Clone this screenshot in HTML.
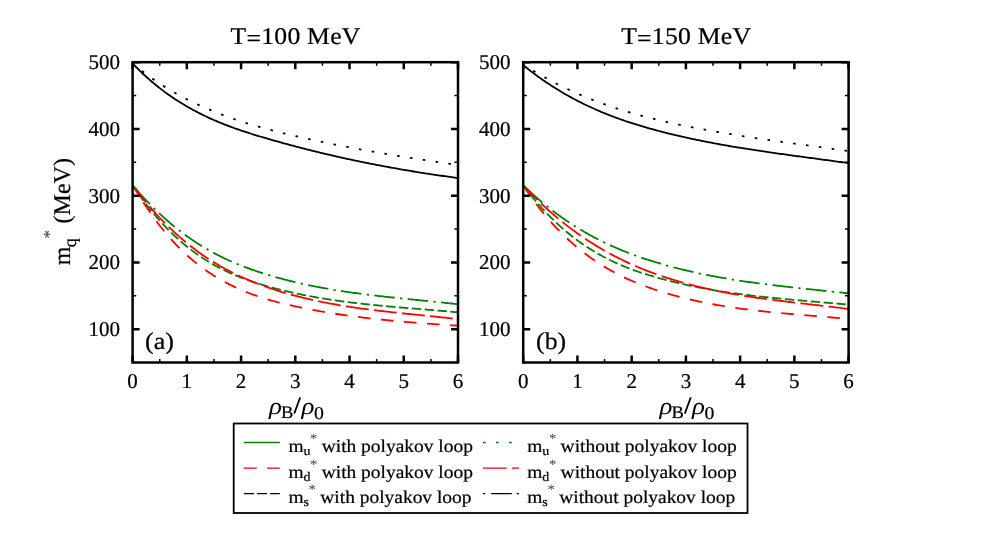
<!DOCTYPE html>
<html><head><meta charset="utf-8"><title>chart</title>
<style>
html,body{margin:0;padding:0;background:#fff;}
body{width:981px;height:545px;overflow:hidden;}
svg{display:block;will-change:transform;font-family:"Liberation Serif",serif;}
text{fill:#000;stroke:#000;stroke-width:0.22px;text-rendering:geometricPrecision;}
</style></head><body>
<svg width="981" height="545" viewBox="0 0 981 545">
<defs>
<clipPath id="clip0"><rect x="132.6" y="62.2" width="325.4" height="300.30"/></clipPath>
<clipPath id="clip1"><rect x="523.2" y="62.2" width="325.4" height="300.30"/></clipPath>
</defs>
<rect width="981" height="545" fill="#fff"/>
<g clip-path="url(#clip0)">
<path d="M132.60,63.46 L134.24,65.16 L135.87,66.83 L137.51,68.48 L139.14,70.09 L140.78,71.68 L142.41,73.23 L144.05,74.76 L145.68,76.27 L147.32,77.74 L148.95,79.19 L150.59,80.62 L152.22,82.02 L153.86,83.39 L155.49,84.74 L157.13,86.07 L158.76,87.37 L160.40,88.65 L162.03,89.91 L163.67,91.14 L165.30,92.35 L166.94,93.54 L168.57,94.71 L170.21,95.85 L171.84,96.98 L173.48,98.09 L175.11,99.17 L176.75,100.24 L178.38,101.29 L180.02,102.32 L181.66,103.33 L183.29,104.32 L184.93,105.30 L186.56,106.26 L188.20,107.20 L189.83,108.12 L191.47,109.03 L193.10,109.93 L194.74,110.81 L196.37,111.67 L198.01,112.52 L199.64,113.35 L201.28,114.17 L202.91,114.98 L204.55,115.77 L206.18,116.55 L207.82,117.32 L209.45,118.07 L211.09,118.81 L212.72,119.53 L214.36,120.25 L215.99,120.95 L217.63,121.65 L219.26,122.33 L220.90,123.00 L222.53,123.66 L224.17,124.30 L225.81,124.94 L227.44,125.57 L229.08,126.19 L230.71,126.80 L232.35,127.40 L233.98,127.99 L235.62,128.58 L237.25,129.15 L238.89,129.72 L240.52,130.28 L242.16,130.83 L243.79,131.38 L245.43,131.92 L247.06,132.45 L248.70,132.98 L250.33,133.50 L251.97,134.01 L253.60,134.52 L255.24,135.03 L256.87,135.53 L258.51,136.02 L260.14,136.51 L261.78,137.00 L263.41,137.48 L265.05,137.96 L266.68,138.44 L268.32,138.91 L269.95,139.38 L271.59,139.85 L273.23,140.32 L274.86,140.78 L276.50,141.24 L278.13,141.70 L279.77,142.16 L281.40,142.61 L283.04,143.06 L284.67,143.51 L286.31,143.96 L287.94,144.40 L289.58,144.84 L291.21,145.28 L292.85,145.72 L294.48,146.15 L296.12,146.58 L297.75,147.01 L299.39,147.44 L301.02,147.86 L302.66,148.28 L304.29,148.70 L305.93,149.12 L307.56,149.53 L309.20,149.94 L310.83,150.35 L312.47,150.76 L314.10,151.17 L315.74,151.57 L317.37,151.97 L319.01,152.36 L320.65,152.76 L322.28,153.15 L323.92,153.54 L325.55,153.93 L327.19,154.31 L328.82,154.70 L330.46,155.08 L332.09,155.46 L333.73,155.83 L335.36,156.21 L337.00,156.58 L338.63,156.95 L340.27,157.31 L341.90,157.68 L343.54,158.04 L345.17,158.40 L346.81,158.76 L348.44,159.11 L350.08,159.47 L351.71,159.82 L353.35,160.16 L354.98,160.51 L356.62,160.85 L358.25,161.20 L359.89,161.53 L361.52,161.87 L363.16,162.21 L364.79,162.54 L366.43,162.87 L368.07,163.20 L369.70,163.52 L371.34,163.85 L372.97,164.17 L374.61,164.49 L376.24,164.81 L377.88,165.12 L379.51,165.43 L381.15,165.74 L382.78,166.05 L384.42,166.36 L386.05,166.66 L387.69,166.96 L389.32,167.26 L390.96,167.56 L392.59,167.86 L394.23,168.15 L395.86,168.44 L397.50,168.73 L399.13,169.02 L400.77,169.30 L402.40,169.59 L404.04,169.87 L405.67,170.14 L407.31,170.42 L408.94,170.70 L410.58,170.97 L412.22,171.24 L413.85,171.51 L415.49,171.77 L417.12,172.04 L418.76,172.30 L420.39,172.56 L422.03,172.82 L423.66,173.07 L425.30,173.33 L426.93,173.58 L428.57,173.83 L430.20,174.08 L431.84,174.32 L433.47,174.57 L435.11,174.81 L436.74,175.05 L438.38,175.28 L440.01,175.52 L441.65,175.75 L443.28,175.99 L444.92,176.22 L446.55,176.44 L448.19,176.67 L449.82,176.90 L451.46,177.12 L453.09,177.34 L454.73,177.56 L456.36,177.77 L458.00,177.99" fill="none" stroke="#000" stroke-width="1.8"/>
<path d="M132.60,185.29 L134.24,187.19 L135.87,189.07 L137.51,190.92 L139.14,192.75 L140.78,194.55 L142.41,196.34 L144.05,198.10 L145.68,199.83 L147.32,201.54 L148.95,203.23 L150.59,204.90 L152.22,206.54 L153.86,208.16 L155.49,209.75 L157.13,211.33 L158.76,212.88 L160.40,214.41 L162.03,215.92 L163.67,217.40 L165.30,218.86 L166.94,220.30 L168.57,221.72 L170.21,223.12 L171.84,224.50 L173.48,225.85 L175.11,227.18 L176.75,228.50 L178.38,229.79 L180.02,231.06 L181.66,232.31 L183.29,233.54 L184.93,234.75 L186.56,235.93 L188.20,237.10 L189.83,238.25 L191.47,239.38 L193.10,240.49 L194.74,241.58 L196.37,242.65 L198.01,243.70 L199.64,244.73 L201.28,245.75 L202.91,246.74 L204.55,247.72 L206.18,248.68 L207.82,249.63 L209.45,250.56 L211.09,251.47 L212.72,252.36 L214.36,253.24 L215.99,254.11 L217.63,254.95 L219.26,255.79 L220.90,256.60 L222.53,257.41 L224.17,258.20 L225.81,258.97 L227.44,259.73 L229.08,260.48 L230.71,261.21 L232.35,261.93 L233.98,262.63 L235.62,263.33 L237.25,264.01 L238.89,264.68 L240.52,265.34 L242.16,265.98 L243.79,266.62 L245.43,267.24 L247.06,267.86 L248.70,268.46 L250.33,269.05 L251.97,269.63 L253.60,270.21 L255.24,270.77 L256.87,271.32 L258.51,271.87 L260.14,272.40 L261.78,272.93 L263.41,273.45 L265.05,273.96 L266.68,274.47 L268.32,274.96 L269.95,275.45 L271.59,275.93 L273.23,276.41 L274.86,276.88 L276.50,277.34 L278.13,277.80 L279.77,278.24 L281.40,278.69 L283.04,279.12 L284.67,279.55 L286.31,279.97 L287.94,280.39 L289.58,280.80 L291.21,281.20 L292.85,281.60 L294.48,281.99 L296.12,282.38 L297.75,282.76 L299.39,283.13 L301.02,283.50 L302.66,283.86 L304.29,284.22 L305.93,284.57 L307.56,284.92 L309.20,285.26 L310.83,285.60 L312.47,285.93 L314.10,286.26 L315.74,286.58 L317.37,286.89 L319.01,287.21 L320.65,287.51 L322.28,287.81 L323.92,288.11 L325.55,288.40 L327.19,288.69 L328.82,288.98 L330.46,289.26 L332.09,289.53 L333.73,289.80 L335.36,290.07 L337.00,290.34 L338.63,290.60 L340.27,290.85 L341.90,291.10 L343.54,291.35 L345.17,291.60 L346.81,291.84 L348.44,292.08 L350.08,292.31 L351.71,292.54 L353.35,292.77 L354.98,293.00 L356.62,293.22 L358.25,293.44 L359.89,293.65 L361.52,293.87 L363.16,294.08 L364.79,294.28 L366.43,294.49 L368.07,294.69 L369.70,294.89 L371.34,295.09 L372.97,295.29 L374.61,295.48 L376.24,295.67 L377.88,295.86 L379.51,296.05 L381.15,296.23 L382.78,296.42 L384.42,296.60 L386.05,296.78 L387.69,296.96 L389.32,297.14 L390.96,297.31 L392.59,297.49 L394.23,297.66 L395.86,297.83 L397.50,298.00 L399.13,298.17 L400.77,298.34 L402.40,298.51 L404.04,298.67 L405.67,298.84 L407.31,299.01 L408.94,299.17 L410.58,299.34 L412.22,299.50 L413.85,299.66 L415.49,299.83 L417.12,299.99 L418.76,300.15 L420.39,300.32 L422.03,300.48 L423.66,300.64 L425.30,300.81 L426.93,300.97 L428.57,301.14 L430.20,301.30 L431.84,301.47 L433.47,301.63 L435.11,301.80 L436.74,301.96 L438.38,302.13 L440.01,302.30 L441.65,302.47 L443.28,302.64 L444.92,302.81 L446.55,302.98 L448.19,303.16 L449.82,303.33 L451.46,303.51 L453.09,303.69 L454.73,303.87 L456.36,304.05 L458.00,304.23" fill="none" stroke="#008000" stroke-width="1.8" stroke-dasharray="20.53 5.35 2.3 5.35" stroke-dashoffset="-5.09"/>
<path d="M132.60,185.28 L134.24,187.71 L135.87,190.10 L137.51,192.45 L139.14,194.76 L140.78,197.03 L142.41,199.26 L144.05,201.45 L145.68,203.61 L147.32,205.72 L148.95,207.80 L150.59,209.84 L152.22,211.85 L153.86,213.82 L155.49,215.76 L157.13,217.66 L158.76,219.52 L160.40,221.35 L162.03,223.15 L163.67,224.91 L165.30,226.64 L166.94,228.33 L168.57,230.00 L170.21,231.63 L171.84,233.23 L173.48,234.80 L175.11,236.34 L176.75,237.85 L178.38,239.33 L180.02,240.78 L181.66,242.20 L183.29,243.59 L184.93,244.95 L186.56,246.28 L188.20,247.59 L189.83,248.87 L191.47,250.13 L193.10,251.35 L194.74,252.56 L196.37,253.73 L198.01,254.89 L199.64,256.01 L201.28,257.11 L202.91,258.19 L204.55,259.25 L206.18,260.28 L207.82,261.29 L209.45,262.28 L211.09,263.25 L212.72,264.19 L214.36,265.12 L215.99,266.02 L217.63,266.90 L219.26,267.77 L220.90,268.61 L222.53,269.44 L224.17,270.24 L225.81,271.03 L227.44,271.80 L229.08,272.56 L230.71,273.30 L232.35,274.02 L233.98,274.72 L235.62,275.41 L237.25,276.09 L238.89,276.75 L240.52,277.39 L242.16,278.02 L243.79,278.64 L245.43,279.24 L247.06,279.84 L248.70,280.42 L250.33,280.98 L251.97,281.54 L253.60,282.08 L255.24,282.62 L256.87,283.14 L258.51,283.66 L260.14,284.16 L261.78,284.66 L263.41,285.14 L265.05,285.62 L266.68,286.09 L268.32,286.56 L269.95,287.01 L271.59,287.46 L273.23,287.91 L274.86,288.34 L276.50,288.77 L278.13,289.19 L279.77,289.61 L281.40,290.02 L283.04,290.42 L284.67,290.82 L286.31,291.21 L287.94,291.59 L289.58,291.97 L291.21,292.34 L292.85,292.71 L294.48,293.07 L296.12,293.42 L297.75,293.77 L299.39,294.12 L301.02,294.45 L302.66,294.79 L304.29,295.11 L305.93,295.43 L307.56,295.75 L309.20,296.06 L310.83,296.37 L312.47,296.67 L314.10,296.96 L315.74,297.25 L317.37,297.54 L319.01,297.82 L320.65,298.09 L322.28,298.37 L323.92,298.63 L325.55,298.90 L327.19,299.15 L328.82,299.41 L330.46,299.66 L332.09,299.90 L333.73,300.15 L335.36,300.38 L337.00,300.62 L338.63,300.85 L340.27,301.07 L341.90,301.30 L343.54,301.51 L345.17,301.73 L346.81,301.94 L348.44,302.15 L350.08,302.35 L351.71,302.56 L353.35,302.75 L354.98,302.95 L356.62,303.14 L358.25,303.33 L359.89,303.52 L361.52,303.70 L363.16,303.88 L364.79,304.06 L366.43,304.24 L368.07,304.41 L369.70,304.58 L371.34,304.75 L372.97,304.92 L374.61,305.08 L376.24,305.25 L377.88,305.41 L379.51,305.56 L381.15,305.72 L382.78,305.88 L384.42,306.03 L386.05,306.18 L387.69,306.33 L389.32,306.48 L390.96,306.62 L392.59,306.77 L394.23,306.91 L395.86,307.06 L397.50,307.20 L399.13,307.34 L400.77,307.48 L402.40,307.62 L404.04,307.76 L405.67,307.89 L407.31,308.03 L408.94,308.17 L410.58,308.30 L412.22,308.44 L413.85,308.57 L415.49,308.71 L417.12,308.84 L418.76,308.97 L420.39,309.11 L422.03,309.24 L423.66,309.38 L425.30,309.51 L426.93,309.65 L428.57,309.78 L430.20,309.92 L431.84,310.05 L433.47,310.19 L435.11,310.33 L436.74,310.46 L438.38,310.60 L440.01,310.74 L441.65,310.88 L443.28,311.02 L444.92,311.16 L446.55,311.31 L448.19,311.45 L449.82,311.60 L451.46,311.75 L453.09,311.90 L454.73,312.05 L456.36,312.20 L458.00,312.35" fill="none" stroke="#008000" stroke-width="1.8" stroke-dasharray="9.4 3.49" stroke-dashoffset="3.28"/>
<path d="M132.60,185.28 L134.24,187.46 L135.87,189.61 L137.51,191.73 L139.14,193.83 L140.78,195.89 L142.41,197.93 L144.05,199.94 L145.68,201.92 L147.32,203.87 L148.95,205.79 L150.59,207.69 L152.22,209.56 L153.86,211.40 L155.49,213.21 L157.13,215.00 L158.76,216.76 L160.40,218.50 L162.03,220.21 L163.67,221.89 L165.30,223.55 L166.94,225.18 L168.57,226.79 L170.21,228.37 L171.84,229.93 L173.48,231.46 L175.11,232.97 L176.75,234.46 L178.38,235.92 L180.02,237.36 L181.66,238.78 L183.29,240.17 L184.93,241.54 L186.56,242.89 L188.20,244.21 L189.83,245.52 L191.47,246.80 L193.10,248.06 L194.74,249.30 L196.37,250.52 L198.01,251.71 L199.64,252.89 L201.28,254.05 L202.91,255.19 L204.55,256.30 L206.18,257.40 L207.82,258.48 L209.45,259.54 L211.09,260.58 L212.72,261.61 L214.36,262.62 L215.99,263.60 L217.63,264.58 L219.26,265.53 L220.90,266.47 L222.53,267.39 L224.17,268.29 L225.81,269.18 L227.44,270.06 L229.08,270.91 L230.71,271.75 L232.35,272.58 L233.98,273.40 L235.62,274.19 L237.25,274.98 L238.89,275.75 L240.52,276.51 L242.16,277.25 L243.79,277.98 L245.43,278.70 L247.06,279.40 L248.70,280.10 L250.33,280.78 L251.97,281.45 L253.60,282.11 L255.24,282.75 L256.87,283.39 L258.51,284.02 L260.14,284.63 L261.78,285.24 L263.41,285.83 L265.05,286.42 L266.68,287.00 L268.32,287.56 L269.95,288.12 L271.59,288.68 L273.23,289.22 L274.86,289.75 L276.50,290.28 L278.13,290.79 L279.77,291.30 L281.40,291.81 L283.04,292.30 L284.67,292.79 L286.31,293.26 L287.94,293.73 L289.58,294.20 L291.21,294.65 L292.85,295.10 L294.48,295.54 L296.12,295.97 L297.75,296.40 L299.39,296.82 L301.02,297.23 L302.66,297.64 L304.29,298.04 L305.93,298.43 L307.56,298.82 L309.20,299.20 L310.83,299.57 L312.47,299.94 L314.10,300.30 L315.74,300.65 L317.37,301.00 L319.01,301.35 L320.65,301.68 L322.28,302.01 L323.92,302.34 L325.55,302.66 L327.19,302.98 L328.82,303.29 L330.46,303.59 L332.09,303.89 L333.73,304.19 L335.36,304.48 L337.00,304.76 L338.63,305.04 L340.27,305.32 L341.90,305.59 L343.54,305.86 L345.17,306.12 L346.81,306.38 L348.44,306.63 L350.08,306.88 L351.71,307.13 L353.35,307.37 L354.98,307.61 L356.62,307.84 L358.25,308.07 L359.89,308.30 L361.52,308.53 L363.16,308.75 L364.79,308.96 L366.43,309.18 L368.07,309.39 L369.70,309.60 L371.34,309.81 L372.97,310.01 L374.61,310.21 L376.24,310.41 L377.88,310.60 L379.51,310.80 L381.15,310.99 L382.78,311.18 L384.42,311.36 L386.05,311.55 L387.69,311.73 L389.32,311.91 L390.96,312.09 L392.59,312.27 L394.23,312.44 L395.86,312.62 L397.50,312.79 L399.13,312.96 L400.77,313.14 L402.40,313.31 L404.04,313.48 L405.67,313.64 L407.31,313.81 L408.94,313.98 L410.58,314.14 L412.22,314.31 L413.85,314.48 L415.49,314.64 L417.12,314.81 L418.76,314.97 L420.39,315.14 L422.03,315.30 L423.66,315.47 L425.30,315.63 L426.93,315.80 L428.57,315.96 L430.20,316.13 L431.84,316.30 L433.47,316.47 L435.11,316.64 L436.74,316.81 L438.38,316.98 L440.01,317.15 L441.65,317.32 L443.28,317.50 L444.92,317.67 L446.55,317.85 L448.19,318.03 L449.82,318.21 L451.46,318.39 L453.09,318.58 L454.73,318.76 L456.36,318.95 L458.00,319.14" fill="none" stroke="#ff0000" stroke-width="1.8" stroke-dasharray="22.9 5.32" stroke-dashoffset="1.2"/>
<path d="M132.60,185.27 L134.24,187.96 L135.87,190.62 L137.51,193.24 L139.14,195.84 L140.78,198.41 L142.41,200.95 L144.05,203.45 L145.68,205.92 L147.32,208.36 L148.95,210.75 L150.59,213.11 L152.22,215.43 L153.86,217.72 L155.49,219.96 L157.13,222.16 L158.76,224.32 L160.40,226.44 L162.03,228.51 L163.67,230.54 L165.30,232.53 L166.94,234.48 L168.57,236.39 L170.21,238.26 L171.84,240.09 L173.48,241.88 L175.11,243.63 L176.75,245.34 L178.38,247.02 L180.02,248.66 L181.66,250.27 L183.29,251.84 L184.93,253.38 L186.56,254.88 L188.20,256.35 L189.83,257.79 L191.47,259.19 L193.10,260.57 L194.74,261.92 L196.37,263.23 L198.01,264.52 L199.64,265.78 L201.28,267.01 L202.91,268.21 L204.55,269.38 L206.18,270.53 L207.82,271.66 L209.45,272.76 L211.09,273.84 L212.72,274.89 L214.36,275.92 L215.99,276.93 L217.63,277.92 L219.26,278.88 L220.90,279.82 L222.53,280.75 L224.17,281.65 L225.81,282.53 L227.44,283.40 L229.08,284.24 L230.71,285.06 L232.35,285.87 L233.98,286.66 L235.62,287.43 L237.25,288.18 L238.89,288.91 L240.52,289.63 L242.16,290.33 L243.79,291.02 L245.43,291.69 L247.06,292.34 L248.70,292.98 L250.33,293.61 L251.97,294.22 L253.60,294.81 L255.24,295.40 L256.87,295.96 L258.51,296.52 L260.14,297.06 L261.78,297.59 L263.41,298.11 L265.05,298.62 L266.68,299.12 L268.32,299.60 L269.95,300.08 L271.59,300.54 L273.23,301.00 L274.86,301.44 L276.50,301.88 L278.13,302.31 L279.77,302.73 L281.40,303.14 L283.04,303.54 L284.67,303.94 L286.31,304.33 L287.94,304.71 L289.58,305.09 L291.21,305.46 L292.85,305.82 L294.48,306.18 L296.12,306.54 L297.75,306.89 L299.39,307.23 L301.02,307.57 L302.66,307.91 L304.29,308.24 L305.93,308.57 L307.56,308.89 L309.20,309.21 L310.83,309.53 L312.47,309.84 L314.10,310.14 L315.74,310.45 L317.37,310.74 L319.01,311.04 L320.65,311.33 L322.28,311.61 L323.92,311.90 L325.55,312.17 L327.19,312.45 L328.82,312.72 L330.46,312.98 L332.09,313.25 L333.73,313.51 L335.36,313.76 L337.00,314.01 L338.63,314.26 L340.27,314.51 L341.90,314.75 L343.54,314.98 L345.17,315.22 L346.81,315.45 L348.44,315.68 L350.08,315.90 L351.71,316.12 L353.35,316.34 L354.98,316.56 L356.62,316.77 L358.25,316.98 L359.89,317.18 L361.52,317.39 L363.16,317.59 L364.79,317.78 L366.43,317.98 L368.07,318.17 L369.70,318.36 L371.34,318.54 L372.97,318.73 L374.61,318.91 L376.24,319.09 L377.88,319.26 L379.51,319.43 L381.15,319.61 L382.78,319.77 L384.42,319.94 L386.05,320.10 L387.69,320.27 L389.32,320.42 L390.96,320.58 L392.59,320.74 L394.23,320.89 L395.86,321.04 L397.50,321.19 L399.13,321.34 L400.77,321.48 L402.40,321.63 L404.04,321.77 L405.67,321.91 L407.31,322.04 L408.94,322.18 L410.58,322.32 L412.22,322.45 L413.85,322.58 L415.49,322.71 L417.12,322.84 L418.76,322.97 L420.39,323.09 L422.03,323.22 L423.66,323.34 L425.30,323.46 L426.93,323.58 L428.57,323.70 L430.20,323.82 L431.84,323.94 L433.47,324.05 L435.11,324.17 L436.74,324.28 L438.38,324.40 L440.01,324.51 L441.65,324.62 L443.28,324.73 L444.92,324.84 L446.55,324.95 L448.19,325.06 L449.82,325.17 L451.46,325.28 L453.09,325.38 L454.73,325.49 L456.36,325.60 L458.00,325.70" fill="none" stroke="#ff0000" stroke-width="1.8" stroke-dasharray="12.5 10.58" stroke-dashoffset="2.98"/>
<path d="M132.60,185.30 l4.08,4.40" stroke="#008000" stroke-width="1.8" fill="none"/>
<path d="M132.60,63.02 L134.24,64.45 L135.87,65.85 L137.51,67.22 L139.14,68.56 L140.78,69.89 L142.41,71.19 L144.05,72.46 L145.68,73.71 L147.32,74.94 L148.95,76.15 L150.59,77.34 L152.22,78.51 L153.86,79.65 L155.49,80.78 L157.13,81.89 L158.76,82.97 L160.40,84.04 L162.03,85.10 L163.67,86.13 L165.30,87.15 L166.94,88.15 L168.57,89.14 L170.21,90.11 L171.84,91.07 L173.48,92.01 L175.11,92.94 L176.75,93.85 L178.38,94.75 L180.02,95.64 L181.66,96.52 L183.29,97.38 L184.93,98.24 L186.56,99.08 L188.20,99.91 L189.83,100.72 L191.47,101.53 L193.10,102.32 L194.74,103.10 L196.37,103.88 L198.01,104.64 L199.64,105.39 L201.28,106.13 L202.91,106.86 L204.55,107.58 L206.18,108.29 L207.82,108.99 L209.45,109.68 L211.09,110.36 L212.72,111.03 L214.36,111.69 L215.99,112.35 L217.63,112.99 L219.26,113.63 L220.90,114.26 L222.53,114.88 L224.17,115.49 L225.81,116.09 L227.44,116.69 L229.08,117.28 L230.71,117.86 L232.35,118.43 L233.98,118.99 L235.62,119.55 L237.25,120.10 L238.89,120.65 L240.52,121.18 L242.16,121.71 L243.79,122.23 L245.43,122.75 L247.06,123.26 L248.70,123.76 L250.33,124.26 L251.97,124.75 L253.60,125.24 L255.24,125.72 L256.87,126.19 L258.51,126.66 L260.14,127.12 L261.78,127.58 L263.41,128.04 L265.05,128.48 L266.68,128.93 L268.32,129.36 L269.95,129.80 L271.59,130.23 L273.23,130.65 L274.86,131.07 L276.50,131.49 L278.13,131.90 L279.77,132.31 L281.40,132.72 L283.04,133.12 L284.67,133.52 L286.31,133.91 L287.94,134.30 L289.58,134.69 L291.21,135.08 L292.85,135.46 L294.48,135.84 L296.12,136.22 L297.75,136.60 L299.39,136.97 L301.02,137.34 L302.66,137.71 L304.29,138.07 L305.93,138.44 L307.56,138.80 L309.20,139.16 L310.83,139.52 L312.47,139.87 L314.10,140.22 L315.74,140.58 L317.37,140.92 L319.01,141.27 L320.65,141.61 L322.28,141.96 L323.92,142.30 L325.55,142.64 L327.19,142.97 L328.82,143.31 L330.46,143.64 L332.09,143.97 L333.73,144.30 L335.36,144.62 L337.00,144.95 L338.63,145.27 L340.27,145.59 L341.90,145.91 L343.54,146.23 L345.17,146.54 L346.81,146.85 L348.44,147.17 L350.08,147.48 L351.71,147.78 L353.35,148.09 L354.98,148.39 L356.62,148.70 L358.25,149.00 L359.89,149.30 L361.52,149.60 L363.16,149.89 L364.79,150.19 L366.43,150.48 L368.07,150.77 L369.70,151.06 L371.34,151.35 L372.97,151.64 L374.61,151.92 L376.24,152.21 L377.88,152.49 L379.51,152.77 L381.15,153.05 L382.78,153.33 L384.42,153.61 L386.05,153.88 L387.69,154.16 L389.32,154.43 L390.96,154.70 L392.59,154.97 L394.23,155.24 L395.86,155.51 L397.50,155.78 L399.13,156.04 L400.77,156.31 L402.40,156.57 L404.04,156.84 L405.67,157.10 L407.31,157.36 L408.94,157.62 L410.58,157.87 L412.22,158.13 L413.85,158.39 L415.49,158.64 L417.12,158.90 L418.76,159.15 L420.39,159.40 L422.03,159.65 L423.66,159.90 L425.30,160.15 L426.93,160.40 L428.57,160.65 L430.20,160.90 L431.84,161.14 L433.47,161.39 L435.11,161.63 L436.74,161.88 L438.38,162.12 L440.01,162.36 L441.65,162.60 L443.28,162.85 L444.92,163.09 L446.55,163.33 L448.19,163.57 L449.82,163.80 L451.46,164.04 L453.09,164.28 L454.73,164.52 L456.36,164.75 L458.00,164.99" fill="none" stroke="#000" stroke-width="1.8" stroke-dasharray="2.6 10.34" stroke-dashoffset="0.7"/>
</g>
<g clip-path="url(#clip1)">
<path d="M523.20,65.17 L524.84,66.49 L526.47,67.79 L528.11,69.08 L529.74,70.35 L531.38,71.61 L533.01,72.85 L534.65,74.07 L536.28,75.28 L537.92,76.47 L539.55,77.64 L541.19,78.80 L542.82,79.95 L544.46,81.07 L546.09,82.19 L547.73,83.29 L549.36,84.37 L551.00,85.44 L552.63,86.49 L554.27,87.53 L555.90,88.55 L557.54,89.57 L559.17,90.56 L560.81,91.55 L562.44,92.51 L564.08,93.47 L565.71,94.41 L567.35,95.34 L568.98,96.26 L570.62,97.16 L572.26,98.05 L573.89,98.93 L575.53,99.80 L577.16,100.65 L578.80,101.49 L580.43,102.32 L582.07,103.14 L583.70,103.94 L585.34,104.74 L586.97,105.52 L588.61,106.29 L590.24,107.05 L591.88,107.80 L593.51,108.54 L595.15,109.27 L596.78,109.98 L598.42,110.69 L600.05,111.39 L601.69,112.07 L603.32,112.75 L604.96,113.42 L606.59,114.08 L608.23,114.73 L609.86,115.37 L611.50,116.00 L613.13,116.62 L614.77,117.23 L616.41,117.83 L618.04,118.43 L619.68,119.02 L621.31,119.59 L622.95,120.16 L624.58,120.73 L626.22,121.28 L627.85,121.83 L629.49,122.37 L631.12,122.90 L632.76,123.43 L634.39,123.95 L636.03,124.46 L637.66,124.97 L639.30,125.47 L640.93,125.96 L642.57,126.44 L644.20,126.93 L645.84,127.40 L647.47,127.87 L649.11,128.33 L650.74,128.79 L652.38,129.24 L654.01,129.69 L655.65,130.13 L657.28,130.57 L658.92,131.00 L660.55,131.43 L662.19,131.86 L663.83,132.27 L665.46,132.69 L667.10,133.10 L668.73,133.51 L670.37,133.91 L672.00,134.31 L673.64,134.70 L675.27,135.09 L676.91,135.48 L678.54,135.86 L680.18,136.24 L681.81,136.61 L683.45,136.98 L685.08,137.35 L686.72,137.71 L688.35,138.07 L689.99,138.43 L691.62,138.78 L693.26,139.13 L694.89,139.47 L696.53,139.81 L698.16,140.15 L699.80,140.49 L701.43,140.82 L703.07,141.14 L704.70,141.47 L706.34,141.79 L707.97,142.11 L709.61,142.43 L711.25,142.74 L712.88,143.05 L714.52,143.35 L716.15,143.66 L717.79,143.96 L719.42,144.26 L721.06,144.55 L722.69,144.84 L724.33,145.13 L725.96,145.42 L727.60,145.71 L729.23,145.99 L730.87,146.27 L732.50,146.55 L734.14,146.82 L735.77,147.10 L737.41,147.37 L739.04,147.63 L740.68,147.90 L742.31,148.17 L743.95,148.43 L745.58,148.69 L747.22,148.95 L748.85,149.20 L750.49,149.46 L752.12,149.71 L753.76,149.96 L755.39,150.21 L757.03,150.46 L758.67,150.70 L760.30,150.95 L761.94,151.19 L763.57,151.43 L765.21,151.67 L766.84,151.91 L768.48,152.15 L770.11,152.38 L771.75,152.62 L773.38,152.85 L775.02,153.08 L776.65,153.32 L778.29,153.55 L779.92,153.78 L781.56,154.00 L783.19,154.23 L784.83,154.46 L786.46,154.68 L788.10,154.91 L789.73,155.13 L791.37,155.36 L793.00,155.58 L794.64,155.80 L796.27,156.03 L797.91,156.25 L799.54,156.47 L801.18,156.69 L802.82,156.91 L804.45,157.13 L806.09,157.35 L807.72,157.57 L809.36,157.79 L810.99,158.01 L812.63,158.23 L814.26,158.45 L815.90,158.67 L817.53,158.89 L819.17,159.11 L820.80,159.33 L822.44,159.55 L824.07,159.77 L825.71,159.99 L827.34,160.21 L828.98,160.44 L830.61,160.66 L832.25,160.88 L833.88,161.11 L835.52,161.33 L837.15,161.56 L838.79,161.78 L840.42,162.01 L842.06,162.24 L843.69,162.47 L845.33,162.70 L846.96,162.93 L848.60,163.16" fill="none" stroke="#000" stroke-width="1.8"/>
<path d="M523.20,185.33 L524.84,186.90 L526.47,188.45 L528.11,189.98 L529.74,191.50 L531.38,192.99 L533.01,194.46 L534.65,195.92 L536.28,197.35 L537.92,198.77 L539.55,200.17 L541.19,201.55 L542.82,202.91 L544.46,204.25 L546.09,205.58 L547.73,206.89 L549.36,208.18 L551.00,209.45 L552.63,210.71 L554.27,211.95 L555.90,213.17 L557.54,214.37 L559.17,215.56 L560.81,216.73 L562.44,217.89 L564.08,219.03 L565.71,220.15 L567.35,221.26 L568.98,222.35 L570.62,223.43 L572.26,224.49 L573.89,225.54 L575.53,226.57 L577.16,227.59 L578.80,228.59 L580.43,229.58 L582.07,230.55 L583.70,231.51 L585.34,232.45 L586.97,233.39 L588.61,234.30 L590.24,235.21 L591.88,236.10 L593.51,236.98 L595.15,237.84 L596.78,238.69 L598.42,239.53 L600.05,240.36 L601.69,241.18 L603.32,241.98 L604.96,242.77 L606.59,243.55 L608.23,244.32 L609.86,245.07 L611.50,245.82 L613.13,246.55 L614.77,247.27 L616.41,247.98 L618.04,248.68 L619.68,249.37 L621.31,250.05 L622.95,250.72 L624.58,251.38 L626.22,252.03 L627.85,252.67 L629.49,253.30 L631.12,253.92 L632.76,254.54 L634.39,255.14 L636.03,255.73 L637.66,256.32 L639.30,256.90 L640.93,257.47 L642.57,258.03 L644.20,258.58 L645.84,259.12 L647.47,259.66 L649.11,260.19 L650.74,260.71 L652.38,261.23 L654.01,261.73 L655.65,262.24 L657.28,262.73 L658.92,263.22 L660.55,263.70 L662.19,264.17 L663.83,264.64 L665.46,265.11 L667.10,265.56 L668.73,266.01 L670.37,266.46 L672.00,266.89 L673.64,267.33 L675.27,267.75 L676.91,268.18 L678.54,268.59 L680.18,269.00 L681.81,269.41 L683.45,269.80 L685.08,270.20 L686.72,270.59 L688.35,270.97 L689.99,271.35 L691.62,271.72 L693.26,272.09 L694.89,272.45 L696.53,272.81 L698.16,273.16 L699.80,273.51 L701.43,273.85 L703.07,274.19 L704.70,274.52 L706.34,274.85 L707.97,275.17 L709.61,275.49 L711.25,275.81 L712.88,276.12 L714.52,276.43 L716.15,276.73 L717.79,277.03 L719.42,277.32 L721.06,277.62 L722.69,277.90 L724.33,278.19 L725.96,278.46 L727.60,278.74 L729.23,279.01 L730.87,279.28 L732.50,279.55 L734.14,279.81 L735.77,280.06 L737.41,280.32 L739.04,280.57 L740.68,280.82 L742.31,281.06 L743.95,281.31 L745.58,281.54 L747.22,281.78 L748.85,282.01 L750.49,282.24 L752.12,282.47 L753.76,282.70 L755.39,282.92 L757.03,283.14 L758.67,283.35 L760.30,283.57 L761.94,283.78 L763.57,283.99 L765.21,284.20 L766.84,284.40 L768.48,284.61 L770.11,284.81 L771.75,285.01 L773.38,285.21 L775.02,285.40 L776.65,285.60 L778.29,285.79 L779.92,285.98 L781.56,286.17 L783.19,286.36 L784.83,286.54 L786.46,286.73 L788.10,286.91 L789.73,287.09 L791.37,287.27 L793.00,287.45 L794.64,287.63 L796.27,287.81 L797.91,287.98 L799.54,288.16 L801.18,288.34 L802.82,288.51 L804.45,288.68 L806.09,288.86 L807.72,289.03 L809.36,289.20 L810.99,289.37 L812.63,289.54 L814.26,289.71 L815.90,289.89 L817.53,290.06 L819.17,290.23 L820.80,290.40 L822.44,290.57 L824.07,290.74 L825.71,290.91 L827.34,291.08 L828.98,291.25 L830.61,291.42 L832.25,291.59 L833.88,291.77 L835.52,291.94 L837.15,292.11 L838.79,292.29 L840.42,292.46 L842.06,292.64 L843.69,292.81 L845.33,292.99 L846.96,293.17 L848.60,293.35" fill="none" stroke="#008000" stroke-width="1.8" stroke-dasharray="20.59 5.35 2.3 5.35" stroke-dashoffset="-5.26"/>
<path d="M523.20,185.37 L524.84,187.53 L526.47,189.66 L528.11,191.75 L529.74,193.80 L531.38,195.83 L533.01,197.81 L534.65,199.77 L536.28,201.69 L537.92,203.58 L539.55,205.44 L541.19,207.27 L542.82,209.06 L544.46,210.83 L546.09,212.56 L547.73,214.27 L549.36,215.94 L551.00,217.59 L552.63,219.20 L554.27,220.79 L555.90,222.35 L557.54,223.88 L559.17,225.38 L560.81,226.85 L562.44,228.30 L564.08,229.72 L565.71,231.11 L567.35,232.48 L568.98,233.82 L570.62,235.14 L572.26,236.43 L573.89,237.70 L575.53,238.94 L577.16,240.16 L578.80,241.36 L580.43,242.53 L582.07,243.68 L583.70,244.80 L585.34,245.91 L586.97,246.99 L588.61,248.05 L590.24,249.09 L591.88,250.10 L593.51,251.10 L595.15,252.08 L596.78,253.04 L598.42,253.97 L600.05,254.89 L601.69,255.79 L603.32,256.67 L604.96,257.54 L606.59,258.38 L608.23,259.21 L609.86,260.02 L611.50,260.81 L613.13,261.59 L614.77,262.35 L616.41,263.10 L618.04,263.83 L619.68,264.54 L621.31,265.24 L622.95,265.93 L624.58,266.60 L626.22,267.26 L627.85,267.90 L629.49,268.54 L631.12,269.16 L632.76,269.76 L634.39,270.36 L636.03,270.94 L637.66,271.52 L639.30,272.08 L640.93,272.63 L642.57,273.17 L644.20,273.70 L645.84,274.22 L647.47,274.73 L649.11,275.24 L650.74,275.73 L652.38,276.22 L654.01,276.70 L655.65,277.17 L657.28,277.64 L658.92,278.09 L660.55,278.54 L662.19,278.99 L663.83,279.43 L665.46,279.86 L667.10,280.29 L668.73,280.71 L670.37,281.12 L672.00,281.53 L673.64,281.93 L675.27,282.33 L676.91,282.72 L678.54,283.11 L680.18,283.49 L681.81,283.86 L683.45,284.23 L685.08,284.59 L686.72,284.95 L688.35,285.30 L689.99,285.65 L691.62,285.99 L693.26,286.33 L694.89,286.66 L696.53,286.99 L698.16,287.31 L699.80,287.62 L701.43,287.94 L703.07,288.24 L704.70,288.55 L706.34,288.84 L707.97,289.14 L709.61,289.43 L711.25,289.71 L712.88,289.99 L714.52,290.27 L716.15,290.54 L717.79,290.81 L719.42,291.07 L721.06,291.33 L722.69,291.59 L724.33,291.84 L725.96,292.09 L727.60,292.33 L729.23,292.57 L730.87,292.81 L732.50,293.05 L734.14,293.28 L735.77,293.50 L737.41,293.73 L739.04,293.95 L740.68,294.16 L742.31,294.38 L743.95,294.59 L745.58,294.80 L747.22,295.00 L748.85,295.20 L750.49,295.40 L752.12,295.60 L753.76,295.79 L755.39,295.98 L757.03,296.17 L758.67,296.36 L760.30,296.54 L761.94,296.72 L763.57,296.90 L765.21,297.08 L766.84,297.25 L768.48,297.42 L770.11,297.59 L771.75,297.76 L773.38,297.93 L775.02,298.09 L776.65,298.25 L778.29,298.41 L779.92,298.57 L781.56,298.73 L783.19,298.89 L784.83,299.04 L786.46,299.20 L788.10,299.35 L789.73,299.50 L791.37,299.65 L793.00,299.80 L794.64,299.94 L796.27,300.09 L797.91,300.24 L799.54,300.38 L801.18,300.52 L802.82,300.67 L804.45,300.81 L806.09,300.95 L807.72,301.09 L809.36,301.23 L810.99,301.37 L812.63,301.51 L814.26,301.65 L815.90,301.79 L817.53,301.93 L819.17,302.07 L820.80,302.21 L822.44,302.35 L824.07,302.49 L825.71,302.63 L827.34,302.77 L828.98,302.91 L830.61,303.05 L832.25,303.19 L833.88,303.33 L835.52,303.47 L837.15,303.62 L838.79,303.76 L840.42,303.91 L842.06,304.05 L843.69,304.20 L845.33,304.34 L846.96,304.49 L848.60,304.64" fill="none" stroke="#008000" stroke-width="1.8" stroke-dasharray="9.4 3.54" stroke-dashoffset="1.89"/>
<path d="M523.20,185.35 L524.84,187.10 L526.47,188.82 L528.11,190.53 L529.74,192.22 L531.38,193.89 L533.01,195.54 L534.65,197.17 L536.28,198.78 L537.92,200.37 L539.55,201.94 L541.19,203.50 L542.82,205.03 L544.46,206.55 L546.09,208.05 L547.73,209.53 L549.36,210.99 L551.00,212.43 L552.63,213.86 L554.27,215.26 L555.90,216.65 L557.54,218.03 L559.17,219.38 L560.81,220.72 L562.44,222.04 L564.08,223.35 L565.71,224.63 L567.35,225.90 L568.98,227.16 L570.62,228.40 L572.26,229.62 L573.89,230.83 L575.53,232.02 L577.16,233.19 L578.80,234.35 L580.43,235.49 L582.07,236.62 L583.70,237.74 L585.34,238.84 L586.97,239.92 L588.61,240.99 L590.24,242.04 L591.88,243.08 L593.51,244.11 L595.15,245.12 L596.78,246.12 L598.42,247.10 L600.05,248.07 L601.69,249.03 L603.32,249.97 L604.96,250.90 L606.59,251.82 L608.23,252.73 L609.86,253.62 L611.50,254.50 L613.13,255.36 L614.77,256.22 L616.41,257.06 L618.04,257.89 L619.68,258.71 L621.31,259.51 L622.95,260.31 L624.58,261.09 L626.22,261.86 L627.85,262.62 L629.49,263.37 L631.12,264.11 L632.76,264.84 L634.39,265.56 L636.03,266.26 L637.66,266.96 L639.30,267.65 L640.93,268.32 L642.57,268.99 L644.20,269.65 L645.84,270.29 L647.47,270.93 L649.11,271.56 L650.74,272.18 L652.38,272.79 L654.01,273.39 L655.65,273.98 L657.28,274.57 L658.92,275.14 L660.55,275.71 L662.19,276.27 L663.83,276.82 L665.46,277.37 L667.10,277.90 L668.73,278.43 L670.37,278.95 L672.00,279.46 L673.64,279.96 L675.27,280.46 L676.91,280.95 L678.54,281.43 L680.18,281.91 L681.81,282.38 L683.45,282.84 L685.08,283.29 L686.72,283.74 L688.35,284.18 L689.99,284.61 L691.62,285.04 L693.26,285.46 L694.89,285.88 L696.53,286.28 L698.16,286.68 L699.80,287.08 L701.43,287.47 L703.07,287.85 L704.70,288.23 L706.34,288.60 L707.97,288.97 L709.61,289.33 L711.25,289.69 L712.88,290.03 L714.52,290.38 L716.15,290.72 L717.79,291.05 L719.42,291.38 L721.06,291.71 L722.69,292.02 L724.33,292.34 L725.96,292.65 L727.60,292.95 L729.23,293.25 L730.87,293.55 L732.50,293.84 L734.14,294.13 L735.77,294.41 L737.41,294.69 L739.04,294.96 L740.68,295.24 L742.31,295.50 L743.95,295.77 L745.58,296.03 L747.22,296.28 L748.85,296.54 L750.49,296.79 L752.12,297.03 L753.76,297.27 L755.39,297.51 L757.03,297.75 L758.67,297.99 L760.30,298.22 L761.94,298.45 L763.57,298.67 L765.21,298.89 L766.84,299.11 L768.48,299.33 L770.11,299.55 L771.75,299.76 L773.38,299.97 L775.02,300.18 L776.65,300.39 L778.29,300.60 L779.92,300.80 L781.56,301.00 L783.19,301.20 L784.83,301.40 L786.46,301.60 L788.10,301.80 L789.73,301.99 L791.37,302.19 L793.00,302.38 L794.64,302.57 L796.27,302.76 L797.91,302.95 L799.54,303.14 L801.18,303.33 L802.82,303.52 L804.45,303.71 L806.09,303.90 L807.72,304.09 L809.36,304.27 L810.99,304.46 L812.63,304.65 L814.26,304.84 L815.90,305.02 L817.53,305.21 L819.17,305.40 L820.80,305.59 L822.44,305.78 L824.07,305.97 L825.71,306.16 L827.34,306.35 L828.98,306.54 L830.61,306.74 L832.25,306.93 L833.88,307.13 L835.52,307.32 L837.15,307.52 L838.79,307.72 L840.42,307.92 L842.06,308.12 L843.69,308.33 L845.33,308.54 L846.96,308.74 L848.60,308.95" fill="none" stroke="#ff0000" stroke-width="1.8" stroke-dasharray="22.9 5.46" stroke-dashoffset="2.9"/>
<path d="M523.20,185.31 L524.84,187.82 L526.47,190.29 L528.11,192.70 L529.74,195.07 L531.38,197.39 L533.01,199.66 L534.65,201.89 L536.28,204.08 L537.92,206.23 L539.55,208.33 L541.19,210.40 L542.82,212.42 L544.46,214.41 L546.09,216.36 L547.73,218.28 L549.36,220.16 L551.00,222.00 L552.63,223.81 L554.27,225.59 L555.90,227.34 L557.54,229.06 L559.17,230.74 L560.81,232.39 L562.44,234.02 L564.08,235.61 L565.71,237.17 L567.35,238.71 L568.98,240.22 L570.62,241.70 L572.26,243.15 L573.89,244.57 L575.53,245.97 L577.16,247.35 L578.80,248.69 L580.43,250.02 L582.07,251.31 L583.70,252.59 L585.34,253.84 L586.97,255.07 L588.61,256.27 L590.24,257.45 L591.88,258.61 L593.51,259.75 L595.15,260.86 L596.78,261.95 L598.42,263.02 L600.05,264.08 L601.69,265.11 L603.32,266.12 L604.96,267.11 L606.59,268.08 L608.23,269.03 L609.86,269.96 L611.50,270.88 L613.13,271.77 L614.77,272.65 L616.41,273.51 L618.04,274.36 L619.68,275.19 L621.31,276.00 L622.95,276.79 L624.58,277.57 L626.22,278.34 L627.85,279.09 L629.49,279.82 L631.12,280.54 L632.76,281.25 L634.39,281.94 L636.03,282.62 L637.66,283.28 L639.30,283.94 L640.93,284.58 L642.57,285.21 L644.20,285.82 L645.84,286.43 L647.47,287.02 L649.11,287.61 L650.74,288.18 L652.38,288.75 L654.01,289.30 L655.65,289.85 L657.28,290.38 L658.92,290.91 L660.55,291.43 L662.19,291.94 L663.83,292.44 L665.46,292.94 L667.10,293.43 L668.73,293.91 L670.37,294.38 L672.00,294.84 L673.64,295.30 L675.27,295.75 L676.91,296.19 L678.54,296.62 L680.18,297.05 L681.81,297.47 L683.45,297.88 L685.08,298.29 L686.72,298.69 L688.35,299.08 L689.99,299.47 L691.62,299.85 L693.26,300.22 L694.89,300.58 L696.53,300.94 L698.16,301.30 L699.80,301.65 L701.43,301.99 L703.07,302.32 L704.70,302.65 L706.34,302.98 L707.97,303.29 L709.61,303.61 L711.25,303.91 L712.88,304.21 L714.52,304.51 L716.15,304.80 L717.79,305.09 L719.42,305.37 L721.06,305.64 L722.69,305.91 L724.33,306.18 L725.96,306.44 L727.60,306.70 L729.23,306.95 L730.87,307.20 L732.50,307.44 L734.14,307.68 L735.77,307.91 L737.41,308.14 L739.04,308.37 L740.68,308.59 L742.31,308.81 L743.95,309.03 L745.58,309.24 L747.22,309.45 L748.85,309.65 L750.49,309.85 L752.12,310.05 L753.76,310.24 L755.39,310.43 L757.03,310.62 L758.67,310.81 L760.30,310.99 L761.94,311.17 L763.57,311.34 L765.21,311.52 L766.84,311.69 L768.48,311.86 L770.11,312.03 L771.75,312.19 L773.38,312.35 L775.02,312.51 L776.65,312.67 L778.29,312.83 L779.92,312.98 L781.56,313.14 L783.19,313.29 L784.83,313.44 L786.46,313.58 L788.10,313.73 L789.73,313.88 L791.37,314.02 L793.00,314.17 L794.64,314.31 L796.27,314.45 L797.91,314.59 L799.54,314.73 L801.18,314.87 L802.82,315.01 L804.45,315.14 L806.09,315.28 L807.72,315.42 L809.36,315.56 L810.99,315.69 L812.63,315.83 L814.26,315.97 L815.90,316.10 L817.53,316.24 L819.17,316.38 L820.80,316.52 L822.44,316.66 L824.07,316.80 L825.71,316.94 L827.34,317.08 L828.98,317.22 L830.61,317.36 L832.25,317.50 L833.88,317.65 L835.52,317.79 L837.15,317.94 L838.79,318.09 L840.42,318.24 L842.06,318.39 L843.69,318.54 L845.33,318.70 L846.96,318.85 L848.60,319.01" fill="none" stroke="#ff0000" stroke-width="1.8" stroke-dasharray="12.5 10.64" stroke-dashoffset="0.4"/>
<path d="M523.20,185.30 l4.48,4.00" stroke="#008000" stroke-width="1.8" fill="none"/>
<path d="M523.20,64.53 L524.84,65.57 L526.47,66.61 L528.11,67.63 L529.74,68.64 L531.38,69.64 L533.01,70.63 L534.65,71.61 L536.28,72.58 L537.92,73.53 L539.55,74.48 L541.19,75.42 L542.82,76.34 L544.46,77.25 L546.09,78.16 L547.73,79.05 L549.36,79.93 L551.00,80.80 L552.63,81.66 L554.27,82.52 L555.90,83.36 L557.54,84.19 L559.17,85.01 L560.81,85.83 L562.44,86.63 L564.08,87.42 L565.71,88.21 L567.35,88.98 L568.98,89.75 L570.62,90.50 L572.26,91.25 L573.89,91.99 L575.53,92.72 L577.16,93.44 L578.80,94.15 L580.43,94.85 L582.07,95.55 L583.70,96.23 L585.34,96.91 L586.97,97.58 L588.61,98.24 L590.24,98.89 L591.88,99.54 L593.51,100.17 L595.15,100.80 L596.78,101.42 L598.42,102.04 L600.05,102.64 L601.69,103.24 L603.32,103.83 L604.96,104.42 L606.59,104.99 L608.23,105.56 L609.86,106.13 L611.50,106.68 L613.13,107.23 L614.77,107.77 L616.41,108.31 L618.04,108.84 L619.68,109.36 L621.31,109.87 L622.95,110.38 L624.58,110.89 L626.22,111.38 L627.85,111.87 L629.49,112.36 L631.12,112.84 L632.76,113.31 L634.39,113.78 L636.03,114.24 L637.66,114.69 L639.30,115.14 L640.93,115.59 L642.57,116.03 L644.20,116.46 L645.84,116.89 L647.47,117.32 L649.11,117.73 L650.74,118.15 L652.38,118.56 L654.01,118.96 L655.65,119.36 L657.28,119.76 L658.92,120.15 L660.55,120.54 L662.19,120.92 L663.83,121.30 L665.46,121.67 L667.10,122.05 L668.73,122.41 L670.37,122.78 L672.00,123.13 L673.64,123.49 L675.27,123.84 L676.91,124.19 L678.54,124.54 L680.18,124.88 L681.81,125.22 L683.45,125.55 L685.08,125.88 L686.72,126.21 L688.35,126.54 L689.99,126.87 L691.62,127.19 L693.26,127.51 L694.89,127.82 L696.53,128.14 L698.16,128.45 L699.80,128.76 L701.43,129.06 L703.07,129.37 L704.70,129.67 L706.34,129.97 L707.97,130.26 L709.61,130.56 L711.25,130.85 L712.88,131.14 L714.52,131.43 L716.15,131.72 L717.79,132.00 L719.42,132.28 L721.06,132.56 L722.69,132.84 L724.33,133.12 L725.96,133.39 L727.60,133.66 L729.23,133.94 L730.87,134.20 L732.50,134.47 L734.14,134.74 L735.77,135.00 L737.41,135.26 L739.04,135.52 L740.68,135.78 L742.31,136.04 L743.95,136.29 L745.58,136.55 L747.22,136.80 L748.85,137.05 L750.49,137.30 L752.12,137.55 L753.76,137.80 L755.39,138.04 L757.03,138.29 L758.67,138.53 L760.30,138.77 L761.94,139.01 L763.57,139.25 L765.21,139.49 L766.84,139.73 L768.48,139.97 L770.11,140.20 L771.75,140.44 L773.38,140.67 L775.02,140.90 L776.65,141.14 L778.29,141.37 L779.92,141.60 L781.56,141.83 L783.19,142.06 L784.83,142.28 L786.46,142.51 L788.10,142.74 L789.73,142.97 L791.37,143.19 L793.00,143.42 L794.64,143.64 L796.27,143.87 L797.91,144.09 L799.54,144.32 L801.18,144.54 L802.82,144.76 L804.45,144.98 L806.09,145.21 L807.72,145.43 L809.36,145.65 L810.99,145.87 L812.63,146.10 L814.26,146.32 L815.90,146.54 L817.53,146.76 L819.17,146.98 L820.80,147.21 L822.44,147.43 L824.07,147.65 L825.71,147.87 L827.34,148.10 L828.98,148.32 L830.61,148.54 L832.25,148.77 L833.88,148.99 L835.52,149.21 L837.15,149.44 L838.79,149.66 L840.42,149.89 L842.06,150.11 L843.69,150.34 L845.33,150.57 L846.96,150.80 L848.60,151.02" fill="none" stroke="#000" stroke-width="1.8" stroke-dasharray="2.6 10.35" stroke-dashoffset="1.2"/>
</g>
<rect x="132.6" y="62.2" width="325.4" height="300.30" fill="none" stroke="#000" stroke-width="2.5"/>
<path d="M132.60,362.5v-7 M132.60,62.2v7 M186.83,362.5v-7 M186.83,62.2v7 M241.07,362.5v-7 M241.07,62.2v7 M295.30,362.5v-7 M295.30,62.2v7 M349.53,362.5v-7 M349.53,62.2v7 M403.77,362.5v-7 M403.77,62.2v7 M458.00,362.5v-7 M458.00,62.2v7 M132.6,329.13h7 M458.0,329.13h-7 M132.6,262.40h7 M458.0,262.40h-7 M132.6,195.67h7 M458.0,195.67h-7 M132.6,128.93h7 M458.0,128.93h-7 M132.6,62.20h7 M458.0,62.20h-7" stroke="#000" stroke-width="2.5" fill="none"/>
<path d="M159.72,362.5v-3.6 M159.72,62.2v3.6 M213.95,362.5v-3.6 M213.95,62.2v3.6 M268.18,362.5v-3.6 M268.18,62.2v3.6 M322.42,362.5v-3.6 M322.42,62.2v3.6 M376.65,362.5v-3.6 M376.65,62.2v3.6 M430.88,362.5v-3.6 M430.88,62.2v3.6 M132.6,362.50h3.6 M458.0,362.50h-3.6 M132.6,295.77h3.6 M458.0,295.77h-3.6 M132.6,229.03h3.6 M458.0,229.03h-3.6 M132.6,162.30h3.6 M458.0,162.30h-3.6 M132.6,95.57h3.6 M458.0,95.57h-3.6" stroke="#000" stroke-width="1.5" fill="none"/>
<text x="120.0" y="336.13" font-size="21" text-anchor="end">100</text>
<text x="120.0" y="269.40" font-size="21" text-anchor="end">200</text>
<text x="120.0" y="202.67" font-size="21" text-anchor="end">300</text>
<text x="120.0" y="135.93" font-size="21" text-anchor="end">400</text>
<text x="120.0" y="69.20" font-size="21" text-anchor="end">500</text>
<text x="132.60" y="388" font-size="21" text-anchor="middle">0</text>
<text x="186.83" y="388" font-size="21" text-anchor="middle">1</text>
<text x="241.07" y="388" font-size="21" text-anchor="middle">2</text>
<text x="295.30" y="388" font-size="21" text-anchor="middle">3</text>
<text x="349.53" y="388" font-size="21" text-anchor="middle">4</text>
<text x="403.77" y="388" font-size="21" text-anchor="middle">5</text>
<text x="458.00" y="388" font-size="21" text-anchor="middle">6</text>
<text transform="translate(295.60,44.00) scale(1.07,1)" font-size="24.0" text-anchor="middle" letter-spacing="0.22">T<tspan dy="2.2">=</tspan><tspan dy="-2.2">100 MeV</tspan></text>
<text transform="translate(145.00,349.30) scale(1.09,1)" font-size="24">(a)</text>
<text transform="translate(268.90,413.50) scale(1.12,1)" font-size="24" style="font-style:italic;stroke:none">ρ</text>
<text transform="translate(281.00,418.30) scale(1.06,1)" font-size="17.5">B</text>
<path d="M294.20,413.6 L300.20,397.4" stroke="#000" stroke-width="1.75" fill="none"/>
<text transform="translate(301.50,413.50) scale(1.12,1)" font-size="24" style="font-style:italic;stroke:none">ρ</text>
<text transform="translate(314.00,418.60) scale(1.1,1)" font-size="18">0</text>
<rect x="523.2" y="62.2" width="325.4" height="300.30" fill="none" stroke="#000" stroke-width="2.5"/>
<path d="M523.20,362.5v-7 M523.20,62.2v7 M577.43,362.5v-7 M577.43,62.2v7 M631.67,362.5v-7 M631.67,62.2v7 M685.90,362.5v-7 M685.90,62.2v7 M740.13,362.5v-7 M740.13,62.2v7 M794.37,362.5v-7 M794.37,62.2v7 M848.60,362.5v-7 M848.60,62.2v7 M523.2,329.13h7 M848.6,329.13h-7 M523.2,262.40h7 M848.6,262.40h-7 M523.2,195.67h7 M848.6,195.67h-7 M523.2,128.93h7 M848.6,128.93h-7 M523.2,62.20h7 M848.6,62.20h-7" stroke="#000" stroke-width="2.5" fill="none"/>
<path d="M550.32,362.5v-3.6 M550.32,62.2v3.6 M604.55,362.5v-3.6 M604.55,62.2v3.6 M658.78,362.5v-3.6 M658.78,62.2v3.6 M713.02,362.5v-3.6 M713.02,62.2v3.6 M767.25,362.5v-3.6 M767.25,62.2v3.6 M821.48,362.5v-3.6 M821.48,62.2v3.6 M523.2,362.50h3.6 M848.6,362.50h-3.6 M523.2,295.77h3.6 M848.6,295.77h-3.6 M523.2,229.03h3.6 M848.6,229.03h-3.6 M523.2,162.30h3.6 M848.6,162.30h-3.6 M523.2,95.57h3.6 M848.6,95.57h-3.6" stroke="#000" stroke-width="1.5" fill="none"/>
<text x="510.6" y="336.13" font-size="21" text-anchor="end">100</text>
<text x="510.6" y="269.40" font-size="21" text-anchor="end">200</text>
<text x="510.6" y="202.67" font-size="21" text-anchor="end">300</text>
<text x="510.6" y="135.93" font-size="21" text-anchor="end">400</text>
<text x="510.6" y="69.20" font-size="21" text-anchor="end">500</text>
<text x="523.20" y="388" font-size="21" text-anchor="middle">0</text>
<text x="577.43" y="388" font-size="21" text-anchor="middle">1</text>
<text x="631.67" y="388" font-size="21" text-anchor="middle">2</text>
<text x="685.90" y="388" font-size="21" text-anchor="middle">3</text>
<text x="740.13" y="388" font-size="21" text-anchor="middle">4</text>
<text x="794.37" y="388" font-size="21" text-anchor="middle">5</text>
<text x="848.60" y="388" font-size="21" text-anchor="middle">6</text>
<text transform="translate(686.20,44.00) scale(1.07,1)" font-size="24.0" text-anchor="middle" letter-spacing="0.22">T<tspan dy="2.2">=</tspan><tspan dy="-2.2">150 MeV</tspan></text>
<text transform="translate(536.10,349.30) scale(1.075,1)" font-size="24">(b)</text>
<text transform="translate(659.50,413.50) scale(1.12,1)" font-size="24" style="font-style:italic;stroke:none">ρ</text>
<text transform="translate(671.60,418.30) scale(1.06,1)" font-size="17.5">B</text>
<path d="M684.80,413.6 L690.80,397.4" stroke="#000" stroke-width="1.75" fill="none"/>
<text transform="translate(692.10,413.50) scale(1.12,1)" font-size="24" style="font-style:italic;stroke:none">ρ</text>
<text transform="translate(704.60,418.60) scale(1.1,1)" font-size="18">0</text>
<g transform="translate(70,0)">
<text transform="translate(0,265.3) rotate(-90)" font-size="24">m</text>
<text transform="translate(5.6,247.2) rotate(-90)" font-size="18">q</text>
<text transform="translate(-14.8,238.6) rotate(-90)" font-size="17" style="stroke:none;fill:#333">*</text>
<text transform="translate(0,223.4) rotate(-90)" font-size="24">(MeV)</text>
</g>
<rect x="233.7" y="423.5" width="513.8" height="89.5" fill="none" stroke="#000" stroke-width="1.8"/>
<path d="M243.8,442.50h36" stroke="#008000" stroke-width="1.4" fill="none"/>
<path d="M483.0,442.50h36" stroke="#008000" stroke-width="1.4" fill="none" stroke-dasharray="2.8 10.2" stroke-dashoffset="0"/>
<text transform="translate(288.40,451.90) scale(1.08,1)" font-size="18">m</text>
<text transform="translate(303.40,455.10) scale(1.08,1)" font-size="13">u</text>
<text transform="translate(310.00,442.90) scale(1.05,1)" font-size="14" style="stroke:none;fill:#444">*</text>
<text transform="translate(321.70,451.90) scale(1.08,1)" font-size="18">with polyakov loop</text>
<text transform="translate(527.30,451.90) scale(1.08,1)" font-size="18">m</text>
<text transform="translate(542.30,455.10) scale(1.08,1)" font-size="13">u</text>
<text transform="translate(548.90,442.90) scale(1.05,1)" font-size="14" style="stroke:none;fill:#444">*</text>
<text transform="translate(560.60,451.90) scale(1.08,1)" font-size="18">without polyakov loop</text>
<path d="M243.8,468.10h36" stroke="#ff0000" stroke-width="1.4" fill="none" stroke-dasharray="13 10.3" stroke-dashoffset="0"/>
<path d="M483.0,468.10h36" stroke="#ff0000" stroke-width="1.4" fill="none" stroke-dasharray="23.8 5.1" stroke-dashoffset="0"/>
<text transform="translate(288.40,477.50) scale(1.08,1)" font-size="18">m</text>
<text transform="translate(303.40,480.70) scale(1.08,1)" font-size="13">d</text>
<text transform="translate(310.00,468.50) scale(1.05,1)" font-size="14" style="stroke:none;fill:#444">*</text>
<text transform="translate(321.70,477.50) scale(1.08,1)" font-size="18">with polyakov loop</text>
<text transform="translate(527.30,477.50) scale(1.08,1)" font-size="18">m</text>
<text transform="translate(542.30,480.70) scale(1.08,1)" font-size="13">d</text>
<text transform="translate(548.90,468.50) scale(1.05,1)" font-size="14" style="stroke:none;fill:#444">*</text>
<text transform="translate(560.60,477.50) scale(1.08,1)" font-size="18">without polyakov loop</text>
<path d="M243.8,493.60h36" stroke="#000" stroke-width="1.4" fill="none" stroke-dasharray="10.2 2.9" stroke-dashoffset="0"/>
<path d="M483.0,493.60h36" stroke="#000" stroke-width="1.4" fill="none" stroke-dasharray="20.7 4.8 2.3 5.8" stroke-dashoffset="25.5"/>
<text transform="translate(288.40,503.00) scale(1.08,1)" font-size="18">m</text>
<text transform="translate(303.40,506.20) scale(1.08,1)" font-size="13">s</text>
<text transform="translate(308.60,494.00) scale(1.05,1)" font-size="14" style="stroke:none;fill:#444">*</text>
<text transform="translate(320.30,503.00) scale(1.08,1)" font-size="18">with polyakov loop</text>
<text transform="translate(527.30,503.00) scale(1.08,1)" font-size="18">m</text>
<text transform="translate(542.30,506.20) scale(1.08,1)" font-size="13">s</text>
<text transform="translate(547.50,494.00) scale(1.05,1)" font-size="14" style="stroke:none;fill:#444">*</text>
<text transform="translate(559.20,503.00) scale(1.08,1)" font-size="18">without polyakov loop</text>
</svg>
</body></html>
